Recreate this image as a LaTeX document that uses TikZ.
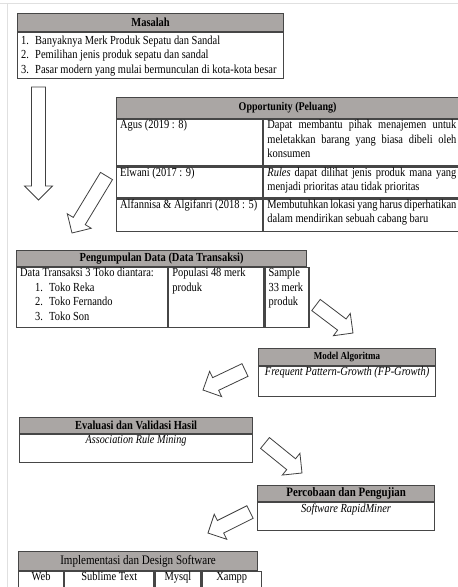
\documentclass[tikz,border=0pt]{standalone}
\usepackage{fontspec}
\setmainfont{Liberation Serif}[FakeStretch=0.85]
\usetikzlibrary{calc}
\definecolor{hdrgray}{RGB}{170,166,164}
\definecolor{rulegray}{RGB}{70,70,70}
% hollow block arrow from tail (#1) to tip (#2)
\newcommand{\panah}[2]{%
  \coordinate (#1-h) at ($(#2)!14pt!(#1)$);
  \draw[blockarrow] ($(#1)!7pt!90:(#2)$) -- ($(#1-h)!7pt!90:(#2)$) -- ($(#1-h)!14pt!90:(#2)$) -- (#2)
    -- ($(#1-h)!14pt!-90:(#2)$) -- ($(#1-h)!7pt!-90:(#2)$) -- ($(#1)!7pt!-90:(#2)$) -- cycle;}
\newcommand{\no}[1]{\makebox[14pt][l]{#1}}
\begin{document}
\begin{tikzpicture}[x=1pt,y=-1pt,font=\fontsize{12.3}{14.5}\selectfont,
  hdr/.style={draw=rulegray,line width=1.2pt,fill=hdrgray,anchor=north west,inner sep=0pt,font=\fontsize{12.3}{14.5}\selectfont\bfseries},
  cell/.style={draw=rulegray,line width=1.2pt,anchor=north west,inner sep=0pt},
  txt/.style={anchor=north west,inner xsep=4pt,inner ysep=1pt,align=left},
  blockarrow/.style={draw=black!75,fill=white,line width=0.8pt}]
\useasboundingbox (0,0) rectangle (458,587);
\clip (0,0) rectangle (458,587);
\fill[white] (0,0) rectangle (458,587);
\draw[black!12] (0,3) -- (458,3);
\draw[black!12] (7,3) -- (7,587);
% masalah
\node[hdr,minimum width=266,minimum height=18] (masalah) at (17,13) {Masalah};
\node[cell,minimum width=266,minimum height=46] (masalahisi) at (masalah.south west) {};
\node[txt,anchor=west] at (masalahisi.west) {\no{1.}Banyaknya Merk Produk Sepatu dan Sandal\\\no{2.}Pemilihan jenis produk sepatu dan sandal\\\no{3.}Pasar modern yang mulai bermunculan di kota-kota besar};
% peluang
\node[hdr,minimum width=342,minimum height=21,font=\fontsize{11.8}{14.5}\selectfont\bfseries] (peluang) at (116,97) {Opportunity (Peluang)};
\node[cell,minimum width=146,minimum height=46] (agus) at (peluang.south west) {};
\node[cell,minimum width=196,minimum height=46] (agusisi) at (agus.north east) {};
\node[cell,minimum width=146,minimum height=31] (elwani) at (agus.south west) {};
\node[cell,minimum width=196,minimum height=31] (elwaniisi) at (elwani.north east) {};
\node[cell,minimum width=146,minimum height=32] (alfa) at (elwani.south west) {};
\node[cell,minimum width=196,minimum height=32] (alfaisi) at (alfa.north east) {};
\node[txt] at (agus.north west) {Agus (2019 : 8)};
\node[txt] at (elwani.north west) {Elwani (2017 : 9)};
\node[txt] at (alfa.north west) {Alfannisa \& Algifanri (2018 : 5)};
\node[txt,text width=189,align=justify] at (agusisi.north west) {Dapat membantu pihak menajemen untuk meletakkan barang yang biasa dibeli oleh konsumen};
\node[txt,text width=189,align=justify] at (elwaniisi.north west) {\emph{Rules} dapat dilihat jenis produk mana yang menjadi prioritas atau tidak prioritas};
\node[txt,text width=189,align=justify] at (alfaisi.north west) {Membutuhkan lokasi yang harus diperhatikan dalam mendirikan sebuah cabang baru};
% pengumpulan data
\node[hdr,minimum width=290,minimum height=16] (kumpul) at (16,250) {Pengumpulan Data (Data Transaksi)};
\node[cell,minimum width=151,minimum height=60] (toko) at (kumpul.south west) {};
\node[cell,minimum width=95,minimum height=60] (populasi) at (toko.north east) {};
\node[cell,minimum width=44,minimum height=60] (sampel) at (populasi.north east) {};
\node[txt] at (toko.north west) {Data Transaksi 3 Toko diantara:\\\hspace*{15pt}\no{1.}Toko Reka\\\hspace*{15pt}\no{2.}Toko Fernando\\\hspace*{15pt}\no{3.}Toko Son};
\node[txt] at (populasi.north west) {Populasi 48 merk\\produk};
\node[txt] at (sampel.north west) {Sample\\33 merk\\produk};
% model
\node[hdr,minimum width=177,minimum height=17,font=\fontsize{10.6}{14.5}\selectfont\bfseries] (model) at (258,348) {Model Algoritma};
\node[cell,minimum width=177,minimum height=30] (modelisi) at (model.south west) {};
\node[txt,anchor=north,font=\fontsize{12.3}{14.5}\selectfont\itshape] at (modelisi.north) {Frequent Pattern-Growth (FP-Growth)};
% evaluasi
\node[hdr,minimum width=233,minimum height=16] (evaluasi) at (19,417) {Evaluasi dan Validasi Hasil};
\node[cell,minimum width=233,minimum height=28] (evaluasiisi) at (evaluasi.south west) {};
\node[txt,anchor=north,font=\fontsize{12}{14.5}\selectfont\itshape] at (evaluasiisi.north) {Association Rule Mining};
% percobaan
\node[hdr,minimum width=177,minimum height=16,font=\fontsize{12.8}{14.5}\selectfont\bfseries] (coba) at (257,485) {Percobaan dan Pengujian};
\node[cell,minimum width=177,minimum height=28] (cobaisi) at (coba.south west) {};
\node[txt,anchor=north,font=\fontsize{12.3}{14.5}\selectfont\itshape] at (cobaisi.north) {Software RapidMiner};
% implementasi
\node[hdr,minimum width=239,minimum height=19,font=\fontsize{13}{14.5}\selectfont] (impl) at (18,551) {Implementasi dan Design Software};
\node[cell,minimum width=45,minimum height=30] (web) at (impl.south west) {};
\node[cell,minimum width=89,minimum height=30] (sublime) at (web.north east) {};
\node[cell,minimum width=46,minimum height=30] (mysql) at (sublime.north east) {};
\node[cell,minimum width=59,minimum height=30] (xampp) at (mysql.north east) {};
\node[txt,anchor=north] at (web.north) {Web};
\node[txt,anchor=north] at (sublime.north) {Sublime Text};
\node[txt,anchor=north] at (mysql.north) {Mysql};
\node[txt,anchor=north] at (xampp.north) {Xampp};
% panah
\coordinate (pA) at (38.5,87);   \coordinate (pA-ujung) at (38.5,200);
\coordinate (pB) at (106.5,176); \coordinate (pB-ujung) at (72,233);
\coordinate (pC) at (316,305);   \coordinate (pC-ujung) at (353,333);
\coordinate (pD) at (245,370);   \coordinate (pD-ujung) at (203,390);
\coordinate (pE) at (265,443);   \coordinate (pE-ujung) at (302,473);
\coordinate (pF) at (250,512);   \coordinate (pF-ujung) at (208,533);
\panah{pA}{pA-ujung}
\panah{pB}{pB-ujung}
\panah{pC}{pC-ujung}
\panah{pD}{pD-ujung}
\panah{pE}{pE-ujung}
\panah{pF}{pF-ujung}
\end{tikzpicture}
\end{document}
